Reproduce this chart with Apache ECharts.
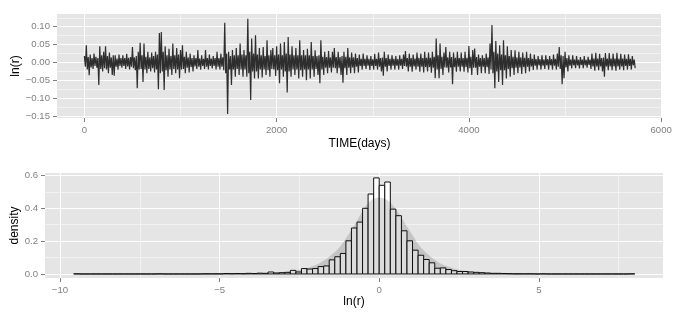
<!DOCTYPE html>
<html><head><meta charset="utf-8">
<script src="https://cdn.jsdelivr.net/npm/echarts@6/dist/echarts.min.js"></script>
<style>html,body{margin:0;padding:0;background:#fff}#c{width:678px;height:317px}</style>
</head><body><div id="c"></div>
<script>
// ---- Top panel: daily log returns (one value every dayStep days) ----
const dayStep = 10;
const logReturns = [
 0.018,-0.012, 0.048,-0.02, 0.015,-0.036, 0.022,-0.014, 0.012,-0.018, 0.025,-0.01, 0.016,-0.015, 0.012,-0.063, 0.045,-0.018, 0.02,-0.025,
 0.03,-0.016, 0.045,-0.02, 0.018,-0.03, 0.028,-0.015, 0.014,-0.035, 0.02,-0.037, 0.02,-0.012, 0.011,-0.02, 0.022,-0.01, 0.012,-0.015,
 0.02,-0.01, 0.012,-0.018, 0.024,-0.011, 0.013,-0.02, 0.015,-0.012, 0.043,-0.016, 0.014,-0.022, 0.018,-0.072, 0.03,-0.02, 0.055,-0.018,
 0.02,-0.055, 0.053,-0.02, 0.016,-0.03, 0.03,-0.018, 0.014,-0.025, 0.028,-0.016, 0.018,-0.028, 0.03,-0.02, 0.022,-0.075, 0.082,-0.03,
 0.085,-0.025, 0.03,-0.077, 0.045,-0.022, 0.02,-0.04, 0.038,-0.02, 0.018,-0.035, 0.053,-0.018, 0.02,-0.03, 0.04,-0.02, 0.022,-0.044,
 0.035,-0.02, 0.048,-0.018, 0.016,-0.03, 0.03,-0.015, 0.014,-0.028, 0.025,-0.013, 0.012,-0.025, 0.02,-0.011, 0.012,-0.018, 0.035,-0.012,
 0.011,-0.02, 0.02,-0.01, 0.01,-0.018, 0.035,-0.012, 0.012,-0.02, 0.022,-0.01, 0.011,-0.017, 0.018,-0.01, 0.012,-0.02, 0.03,-0.012,
 0.012,-0.02, 0.025,-0.012, 0.014,-0.022, 0.111,-0.03, 0.025,-0.144, 0.03,-0.02, 0.018,-0.063, 0.035,-0.02, 0.02,-0.04, 0.04,-0.018,
 0.02,-0.035, 0.053,-0.02, 0.022,-0.04, 0.035,-0.02, 0.02,-0.04, 0.122,-0.03, 0.03,-0.105, 0.067,-0.025, 0.025,-0.045, 0.076,-0.025,
 0.022,-0.045, 0.04,-0.02, 0.02,-0.042, 0.043,-0.02, 0.018,-0.035, 0.062,-0.022, 0.02,-0.04, 0.035,-0.018, 0.04,-0.02, 0.02,-0.038,
 0.045,-0.022, 0.022,-0.058, 0.053,-0.02, 0.02,-0.04, 0.057,-0.025, 0.025,-0.084, 0.071,-0.025, 0.022,-0.04, 0.045,-0.02, 0.02,-0.035,
 0.04,-0.02, 0.02,-0.045, 0.062,-0.022, 0.02,-0.04, 0.035,-0.02, 0.02,-0.05, 0.038,-0.02, 0.02,-0.045, 0.057,-0.02, 0.018,-0.04,
 0.034,-0.018, 0.018,-0.035, 0.02,-0.058, 0.062,-0.02, 0.016,-0.035, 0.03,-0.015, 0.015,-0.03, 0.032,-0.015, 0.014,-0.028, 0.03,-0.015,
 0.04,-0.016, 0.015,-0.03, 0.03,-0.016, 0.015,-0.035, 0.018,-0.057, 0.03,-0.016, 0.016,-0.035, 0.04,-0.015, 0.014,-0.03, 0.028,-0.014,
 0.014,-0.03, 0.025,-0.012, 0.012,-0.028,
 0.022,-0.01, 0.01,-0.02, 0.025,-0.01, 0.01,-0.018, 0.02,-0.009, 0.01,-0.021, 0.018,-0.01, 0.009,-0.02, 0.024,-0.01, 0.01,-0.02,
 0.028,-0.012, 0.012,-0.025, 0.014,-0.037, 0.03,-0.012, 0.012,-0.025, 0.022,-0.01, 0.01,-0.02, 0.02,-0.009, 0.01,-0.02, 0.018,-0.009,
 0.009,-0.02, 0.02,-0.009, 0.01,-0.018, 0.022,-0.01, 0.032,-0.012, 0.012,-0.025, 0.025,-0.012, 0.012,-0.026, 0.022,-0.011, 0.011,-0.02,
 0.028,-0.012, 0.013,-0.026, 0.025,-0.012, 0.012,-0.028, 0.03,-0.013, 0.013,-0.025, 0.028,-0.013, 0.013,-0.029, 0.03,-0.015, 0.016,-0.044,
 0.067,-0.02, 0.02,-0.044, 0.053,-0.018, 0.016,-0.035, 0.028,-0.014, 0.043,-0.015, 0.014,-0.028, 0.03,-0.014, 0.015,-0.061, 0.028,-0.013,
 0.013,-0.026, 0.03,-0.012, 0.012,-0.025, 0.028,-0.012, 0.012,-0.026, 0.03,-0.013, 0.013,-0.028, 0.046,-0.016, 0.016,-0.035, 0.035,-0.015,
 0.039,-0.015, 0.015,-0.035, 0.022,-0.012, 0.012,-0.03, 0.02,-0.012, 0.012,-0.03, 0.025,-0.013, 0.014,-0.032, 0.053,-0.02, 0.105,-0.03,
 0.03,-0.072, 0.06,-0.025, 0.025,-0.055, 0.048,-0.022, 0.022,-0.063, 0.062,-0.022, 0.02,-0.045, 0.045,-0.018, 0.018,-0.04, 0.035,-0.016,
 0.016,-0.035, 0.034,-0.015, 0.014,-0.03, 0.03,-0.014, 0.014,-0.032, 0.028,-0.013, 0.013,-0.03, 0.03,-0.012, 0.012,-0.025, 0.025,-0.011,
 0.01,-0.021, 0.022,-0.009, 0.009,-0.02, 0.018,-0.008, 0.009,-0.02, 0.02,-0.009, 0.008,-0.018, 0.02,-0.008, 0.009,-0.02, 0.018,-0.008,
 0.009,-0.02, 0.022,-0.009, 0.01,-0.02, 0.025,-0.012, 0.043,-0.018, 0.02,-0.061, 0.018,-0.044, 0.03,-0.014, 0.012,-0.025, 0.02,-0.009,
 0.008,-0.017, 0.02,-0.008, 0.008,-0.016, 0.018,-0.008, 0.007,-0.017, 0.015,-0.007, 0.008,-0.016, 0.018,-0.008, 0.007,-0.015, 0.016,-0.007,
 0.008,-0.018, 0.025,-0.011, 0.011,-0.023, 0.027,-0.011, 0.011,-0.022, 0.024,-0.011, 0.012,-0.025, 0.014,-0.04, 0.026,-0.011, 0.011,-0.022,
 0.026,-0.011, 0.011,-0.022, 0.025,-0.011, 0.011,-0.023, 0.027,-0.011, 0.01,-0.02, 0.024,-0.011, 0.011,-0.022, 0.022,-0.01, 0.01,-0.02, 0.023,-0.01, 0.01,-0.02, 0.018,-0.008, 0.008,-0.016
];
const topXTicks = [0, 2000, 4000, 6000];
const topXLabels = ['0', '2000', '4000', '6000'];
const topYTicks = [-0.15, -0.10, -0.05, 0.00, 0.05, 0.10];
const topYLabels = ['\u22120.15', '\u22120.10', '\u22120.05', '0.00', '0.05', '0.10'];

// ---- Bottom panel: histogram of ln(r) ----
const binWidth = 0.174;
const firstBin = -55;
const binDensity = [
 0.001, 0,0,0,0,0,0,0,0,0,0,0,0,0,0, 0.001, 0,0,0,0,0,0,0,
 0.001, 0.001, 0.001, 0.001,
 0.003, 0.002, 0.003, 0.002, 0.004, 0.003, 0.005, 0.004,
 0.012, 0.006, 0.008, 0.01,
 0.022, 0.012, 0.033, 0.03, 0.033, 0.045, 0.049, 0.086, 0.105, 0.125, 0.202, 0.28, 0.316, 0.40, 0.487, 0.585,
 0.54, 0.56, 0.395, 0.355, 0.263, 0.202, 0.145, 0.114, 0.088, 0.068,
 0.035, 0.037, 0.027, 0.02, 0.015, 0.015, 0.012, 0.01, 0.008, 0.006,
 0.004, 0.004, 0.003, 0.002, 0.001, 0.001, 0.001, 0.001, 0, 0.001,
 0,0,0,0,0,0,0,0,0,0,
 0,0,0,0,0, 0.001
];
const densityX = [-9.58, -5, -4, -3.5, -3, -2.5, -2.2, -1.9, -1.6, -1.3, -1.05, -0.8, -0.5, -0.25, 0, 0.25, 0.5, 0.75, 1.0, 1.25, 1.55, 1.9, 2.25, 2.6, 3, 3.5, 4, 5, 8.03];
const densityY = [0, 0.0005, 0.002, 0.005, 0.01, 0.025, 0.04, 0.062, 0.1, 0.15, 0.215, 0.29, 0.39, 0.45, 0.466, 0.45, 0.40, 0.325, 0.25, 0.175, 0.115, 0.066, 0.04, 0.022, 0.012, 0.005, 0.002, 0.0005, 0];
const botXTicks = [-10, -5, 0, 5];
const botXLabels = ['\u221210', '\u22125', '0', '5'];
const botYTicks = [0, 0.2, 0.4, 0.6];
const botYLabels = ['0.0', '0.2', '0.4', '0.6'];

const FONT = 'Liberation Sans, Arial, Helvetica, sans-serif';
const labelOf = (ticks, labels) => v => {
  for (let i = 0; i < ticks.length; i++) if (Math.abs(ticks[i] - v) < 1e-6) return labels[i];
  return '';
};
function axisCommon(ticks, labels, extra) {
  return Object.assign({
    type: 'value',
    axisLine: { show: false, onZero: false },
    axisTick: { show: true, length: 4, interval: 0, lineStyle: { color: '#7F7F7F' }, customValues: ticks },
    axisLabel: { color: '#7F7F7F', fontSize: 9.6, fontFamily: FONT, margin: 7, interval: 0, hideOverlap: false,
      customValues: ticks, formatter: labelOf(ticks, labels) },
    splitLine: { show: true, lineStyle: { color: '#FFFFFF', width: 1 } },
    minorTick: { show: false, splitNumber: 2 },
    minorSplitLine: { show: true, lineStyle: { color: '#F2F2F2', width: 1 } },
    nameLocation: 'middle',
    nameMoveOverlap: false,
    nameTextStyle: { color: '#000', fontSize: 12, fontFamily: FONT }
  }, extra);
}

const tsData = logReturns.map((v, i) => [i * dayStep, v]);
const binData = binDensity.map((d, i) => [(firstBin + i) * binWidth, (firstBin + i + 1) * binWidth, d]);
const densData = densityX.map((x, i) => [x, densityY[i]]);

const chart = echarts.init(document.getElementById('c'), null, { renderer: 'canvas' });
chart.setOption({
  animation: false,
  backgroundColor: '#FFFFFF',
  grid: [
    { left: 57, right: 16, top: 14, height: 104, show: true, backgroundColor: '#E5E5E5', borderWidth: 0, containLabel: false, outerBoundsMode: 'none' },
    { left: 45, right: 15, top: 173, height: 105, show: true, backgroundColor: '#E5E5E5', borderWidth: 0, containLabel: false, outerBoundsMode: 'none' }
  ],
  xAxis: [
    axisCommon(topXTicks, topXLabels, { gridIndex: 0, min: -285, max: 6009, splitNumber: 3, name: 'TIME(days)', nameGap: 20 }),
    axisCommon(botXTicks, botXLabels, { gridIndex: 1, min: -10.47, max: 8.89, splitNumber: 4, name: 'ln(r)', nameGap: 18 })
  ],
  yAxis: [
    axisCommon(topYTicks, topYLabels, { gridIndex: 0, min: -0.1555, max: 0.1355, splitNumber: 5, name: 'ln(r)', nameGap: 35 }),
    axisCommon(botYTicks, botYLabels, { gridIndex: 1, min: -0.0245, max: 0.615, splitNumber: 3, name: 'density', nameGap: 24 })
  ],
  series: [
    { type: 'line', xAxisIndex: 0, yAxisIndex: 0, data: tsData, showSymbol: false, symbol: 'none',
      lineStyle: { color: '#2E2E2E', width: 1.2 }, z: 3 },
    { type: 'custom', xAxisIndex: 1, yAxisIndex: 1, data: binData, encode: { x: [0, 1], y: 2 }, z: 2,
      renderItem: function (params, api) {
        const p0 = api.coord([api.value(0), 0]);
        const p1 = api.coord([api.value(1), api.value(2)]);
        return { type: 'rect', shape: { x: p0[0], y: p1[1], width: p1[0] - p0[0], height: p0[1] - p1[1] },
          style: { fill: '#FFFFFF', stroke: '#111111', lineWidth: 1 } };
      } },
    { type: 'line', xAxisIndex: 1, yAxisIndex: 1, data: densData, smooth: 0.35, showSymbol: false, symbol: 'none',
      lineStyle: { width: 0, opacity: 0 }, areaStyle: { color: 'rgba(0,0,0,0.2)' }, z: 4 }
  ]
});
</script></body></html>
